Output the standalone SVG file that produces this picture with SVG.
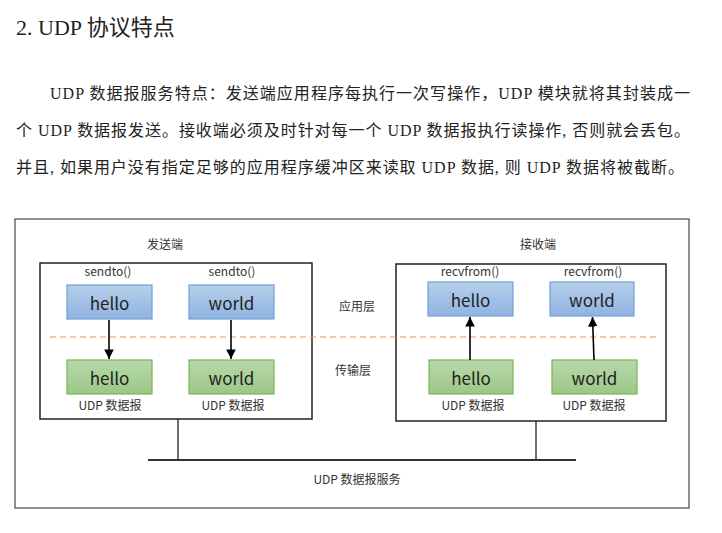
<svg xmlns="http://www.w3.org/2000/svg" width="722" height="533" viewBox="0 0 722 533">
<style>
.serif{font-family:"Liberation Serif","Noto Sans CJK SC",serif;fill:#222}
.lbl{font-family:"Noto Sans CJK SC","Liberation Sans",sans-serif;font-size:12px;fill:#333;text-anchor:middle}
.big{font-family:"Noto Sans CJK SC","Liberation Sans",sans-serif;font-size:17px;fill:#222;text-anchor:middle}
.blue{fill:url(#gb);stroke:#6fa0d8;stroke-width:1.2}
.green{fill:url(#gg);stroke:#7ab55c;stroke-width:1.2}
.conn{stroke:#000;stroke-width:1.6;fill:none}
.frame{fill:#fff;stroke:#222;stroke-width:1.5}
</style>
<defs>
<linearGradient id="gb" x1="0" y1="0" x2="0" y2="1"><stop offset="0" stop-color="#b6cfeb"/><stop offset="1" stop-color="#8fb3e1"/></linearGradient>
<linearGradient id="gg" x1="0" y1="0" x2="0" y2="1"><stop offset="0" stop-color="#b9d8ab"/><stop offset="1" stop-color="#9bc886"/></linearGradient>
<marker id="ah" viewBox="0 0 10 10" refX="10" refY="5" markerWidth="6" markerHeight="6.5" orient="auto" markerUnits="strokeWidth"><path d="M0,0 L10,5 L0,10 z" fill="#000"/></marker>
</defs>
<rect width="722" height="533" fill="#fff"/>
<text class="serif" x="16" y="35" font-size="22">2. UDP 协议特点</text>
<text class="serif" x="50" y="99" font-size="16" textLength="640" lengthAdjust="spacing">UDP 数据报服务特点：发送端应用程序每执行一次写操作，UDP 模块就将其封装成一</text>
<text class="serif" x="16" y="136" font-size="16" textLength="674" lengthAdjust="spacing">个 UDP 数据报发送。接收端必须及时针对每一个 UDP 数据报执行读操作, 否则就会丢包。</text>
<text class="serif" x="16" y="173" font-size="16" textLength="668" lengthAdjust="spacing">并且, 如果用户没有指定足够的应用程序缓冲区来读取 UDP 数据, 则 UDP 数据将被截断。</text>

<rect x="15" y="219" width="674" height="289" fill="#fff" stroke="#444" stroke-width="1.2"/>
<g id="sender">
<rect class="frame" x="40" y="263" width="272" height="156"/>
<text class="lbl" x="165" y="249">发送端</text>
</g>
<g id="receiver">
<rect class="frame" x="396" y="264" width="270" height="157"/>
<text class="lbl" x="538" y="249">接收端</text>
</g>
<g id="layers">
<line x1="50" y1="337" x2="658" y2="337" stroke="#f0935a" stroke-width="1.2" stroke-dasharray="6,4"/>
<text class="lbl" x="357" y="311">应用层</text>
<text class="lbl" x="353" y="375">传输层</text>
</g>
<g id="s-hello-app"><text class="lbl" x="108" y="276">sendto()</text><rect class="blue" x="67" y="285" width="85" height="34"/><text class="big" x="109.5" y="310">hello</text></g>
<g id="s-world-app"><text class="lbl" x="232" y="276">sendto()</text><rect class="blue" x="189" y="285" width="85" height="34"/><text class="big" x="231.5" y="310">world</text></g>
<g id="s-hello-udp"><rect class="green" x="67" y="360" width="85" height="34"/><text class="big" x="109.5" y="385">hello</text><text class="lbl" x="110" y="410">UDP 数据报</text></g>
<g id="s-world-udp"><rect class="green" x="189" y="360" width="85" height="34"/><text class="big" x="231.5" y="385">world</text><text class="lbl" x="233" y="410">UDP 数据报</text></g>
<g id="r-hello-app"><text class="lbl" x="470" y="276">recvfrom()</text><rect class="blue" x="428" y="282" width="85" height="34"/><text class="big" x="470.5" y="307">hello</text></g>
<g id="r-world-app"><text class="lbl" x="593" y="276">recvfrom()</text><rect class="blue" x="550" y="282" width="84" height="34"/><text class="big" x="592" y="307">world</text></g>
<g id="r-hello-udp"><rect class="green" x="429" y="360" width="84" height="34"/><text class="big" x="471" y="385">hello</text><text class="lbl" x="473" y="410">UDP 数据报</text></g>
<g id="r-world-udp"><rect class="green" x="552" y="360" width="85" height="34"/><text class="big" x="594.5" y="385">world</text><text class="lbl" x="594" y="410">UDP 数据报</text></g>
<g id="service"><text class="lbl" x="357" y="484">UDP 数据报服务</text></g>
<g id="connectors">
<line class="conn" x1="109" y1="320" x2="109" y2="359" marker-end="url(#ah)"/>
<line class="conn" x1="231" y1="320" x2="231" y2="359" marker-end="url(#ah)"/>
<line class="conn" x1="470" y1="360" x2="470" y2="317" marker-end="url(#ah)"/>
<line class="conn" x1="594" y1="360" x2="592.5" y2="317" marker-end="url(#ah)"/>
<line x1="178" y1="419" x2="178" y2="460" stroke="#222" stroke-width="1.3"/>
<line x1="536" y1="421" x2="536" y2="460" stroke="#222" stroke-width="1.3"/>
<line x1="148" y1="460" x2="576" y2="460" stroke="#333" stroke-width="2"/>
</g>
</svg>
